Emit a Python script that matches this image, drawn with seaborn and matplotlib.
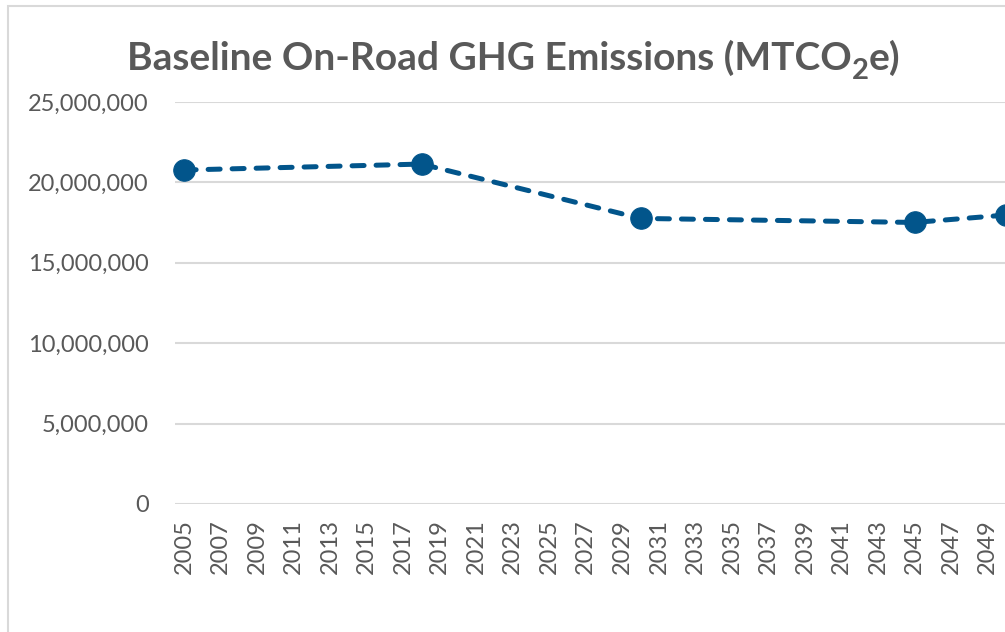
import matplotlib
matplotlib.use('Agg')
import matplotlib.pyplot as plt
import seaborn as sns
from matplotlib.patches import Rectangle
from matplotlib.ticker import FuncFormatter

# Data
years = [2005, 2018, 2030, 2045, 2050]
emissions = [20770000, 21140000, 17760000, 17510000, 17970000]
tick_years = list(range(2005, 2050, 2))

line_color = '#02558b'
text_color = '#595959'
grid_color = '#d9d9d9'

sns.set_style('white')
plt.rcParams['font.family'] = ['Lato', 'DejaVu Sans']

fig = plt.figure(figsize=(10.05, 6.32), dpi=100)
W, H = 1005, 632
ax = fig.add_axes([175 / W, 1 - 504 / H, (1015 - 175) / W, (504 - 102) / H])

# Chart area border (cropped at right and bottom)
fig.patches.append(Rectangle((8 / W, -0.1), 1.2, 1 - 6 / H + 0.1, transform=fig.transFigure,
                             fill=False, edgecolor=grid_color, linewidth=1.5))

sns.lineplot(x=years, y=emissions, ax=ax, color=line_color, linewidth=3.6,
             linestyle=(0, (2.4, 2.4)), dash_capstyle='round',
             marker='o', markersize=15.5, markeredgecolor=line_color, clip_on=False)

ax.set_xlim(2004.5, 2050.5)
ax.set_ylim(0, 25000000)
ax.set_yticks(range(0, 25000001, 5000000))
ax.yaxis.set_major_formatter(FuncFormatter(lambda v, p: f'{int(v):,}'))
ax.set_xticks(tick_years)
ax.set_xticklabels([str(y) for y in tick_years], rotation=90)

for s in ax.spines.values():
    s.set_visible(False)
ax.grid(axis='y', color=grid_color, linewidth=1.5)
ax.set_axisbelow(True)
ax.tick_params(axis='both', length=0, labelcolor=text_color)
ax.tick_params(axis='y', pad=19, labelsize=17)
ax.tick_params(axis='x', pad=11, labelsize=17)
ax.set_xlabel('')
ax.set_ylabel('')

# Title with a real subscript 2, built from pieces
renderer = fig.canvas.get_renderer()
pieces = [('Baseline On-Road GHG Emissions (MTCO', 28, 0),
          ('2', 21, -9),
          ('e)', 28, 0)]
texts = []
for s, size, dy in pieces:
    t = fig.text(0, 0, s, fontsize=size, fontweight='bold', color=text_color,
                 ha='left', va='baseline')
    texts.append((t, dy))
widths = [t.get_window_extent(renderer).width for t, _ in texts]
x = 514 - sum(widths) / 2
base_y = H - 70
for (t, dy), w in zip(texts, widths):
    t.set_position((x / W, (base_y + dy) / H))
    x += w

fig.savefig('out.png', dpi=100)
